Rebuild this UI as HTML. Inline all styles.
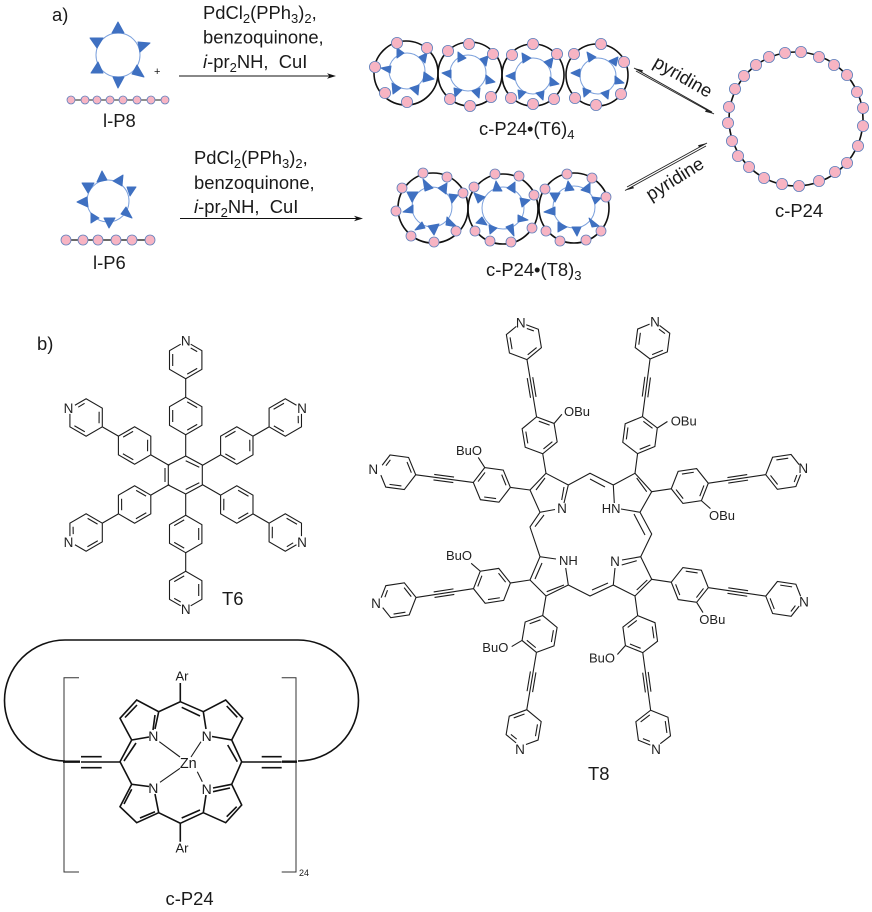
<!DOCTYPE html>
<html><head><meta charset="utf-8"><title>c-P24 scheme</title>
<style>
html,body{margin:0;padding:0;background:#fff}
svg{display:block}
text{font-family:"Liberation Sans",Arial,sans-serif;fill:#1a1a1a}
.l{font-size:18.4px}
.s{font-size:13px;fill:#222}
.n{font-size:13.5px;text-anchor:middle;fill:#222}
.b{fill:none;stroke:#1c1c1c;stroke-width:1.1}
.p{fill:none;stroke:#111;stroke-width:1.6}
.ring{fill:none;stroke:#111;stroke-width:1.6}
.in{fill:none;stroke:#7ba0dc;stroke-width:1}
.tri polygon{fill:#3f70c1;stroke:#3f70c1;stroke-width:1;stroke-linejoin:round}
.dot circle{fill:#f7b4c3;stroke:#5f80bc;stroke-width:.8}
</style></head><body>
<svg width="872" height="912" viewBox="0 0 872 912" xmlns="http://www.w3.org/2000/svg">
<defs>
<g id="hex"><path class="b" d="M0-18.7L16.2-9.35V9.35L0 18.7L-16.2 9.35V-9.35ZM-13-6V6M11.5-8.4L1.5-14.1M11.5 8.4L1.5 14.1"/></g>
<g id="pyr"><path class="b" d="M5-15.8L16.2-9.35V9.35L0 18.7L-16.2 9.35V-9.35L-5-15.8M-13-6V6M11.5-8.4L5-12M11.5 8.4L1.5 14.1"/></g>
<g id="a6"><path class="b" d="M0-19V-40.3M0-77.7V-96"/><use href="#hex" x="0" y="-59"/><use href="#pyr" x="0" y="-115"/></g>
<g id="a8"><path class="b" d="M0 0V-19.5M0-57.5V-115M-2.8-77V-97M2.8-77V-97M16.45-48L25.4-55.6"/><use href="#hex" x="0" y="-38.5"/><use href="#pyr" x="0" y="-134"/></g>
</defs>

<!-- part a text -->
<text class="l" x="52" y="21">a)</text>
<text class="l" x="203" y="19">PdCl<tspan font-size="13" dy="4">2</tspan><tspan dy="-4">(PPh</tspan><tspan font-size="13" dy="4">3</tspan><tspan dy="-4">)</tspan><tspan font-size="13" dy="4">2</tspan><tspan dy="-4">,</tspan></text>
<text class="l" x="203" y="43.5">benzoquinone,</text>
<text class="l" x="203" y="68"><tspan font-style="italic">i</tspan>-pr<tspan font-size="13" dy="4">2</tspan><tspan dy="-4">NH,&#160;&#160;CuI</tspan></text>
<text class="l" x="194" y="164">PdCl<tspan font-size="13" dy="4">2</tspan><tspan dy="-4">(PPh</tspan><tspan font-size="13" dy="4">3</tspan><tspan dy="-4">)</tspan><tspan font-size="13" dy="4">2</tspan><tspan dy="-4">,</tspan></text>
<text class="l" x="194" y="189">benzoquinone,</text>
<text class="l" x="194" y="213"><tspan font-style="italic">i</tspan>-pr<tspan font-size="13" dy="4">2</tspan><tspan dy="-4">NH,&#160;&#160;CuI</tspan></text>
<text x="154" y="75" font-size="11">+</text>
<text class="l" x="103" y="127">l-P8</text>
<text class="l" x="93" y="269">l-P6</text>
<text class="l" x="479" y="135">c-P24•(T6)<tspan font-size="13" dy="4">4</tspan></text>
<text class="l" x="486" y="276">c-P24•(T8)<tspan font-size="13" dy="4">3</tspan></text>
<text class="l" x="775" y="217">c-P24</text>
<text class="l" text-anchor="middle" transform="translate(680,82) rotate(30)">pyridine</text>
<text class="l" text-anchor="middle" transform="translate(678,184) rotate(-32)">pyridine</text>

<!-- arrows -->
<path d="M179 76H330M180 218.5H357" stroke="#111" stroke-width="1" fill="none"/>
<polygon points="336,76 327,73.3 329.5,76 327,78.7" fill="#111"/>
<polygon points="363,218.5 354,215.8 356.5,218.5 354,221.2" fill="#111"/>
<path d="M634 68L712 112M636 71L714 114M627 187L707 143M625 190.5L706 146" stroke="#222" stroke-width=".9" fill="none"/>
<polygon points="634,68 643,70.2 642,72.5" fill="#222"/>
<polygon points="714,114 705,111.8 706.2,109.6" fill="#222"/>
<polygon points="707,143 698,145.3 699.2,147.5" fill="#222"/>
<polygon points="625,190.5 634,188.2 632.8,186" fill="#222"/>

<!-- free rings and chains -->
<circle class="in" cx="118" cy="55" r="22"/>
<circle class="in" cx="108" cy="201" r="21"/>
<path d="M71 100H165" stroke="#222" stroke-width="1"/>
<path d="M66 240H150" stroke="#111" stroke-width="1.3"/>
<g class="ring">
<circle cx="406" cy="73" r="32"/><circle cx="470" cy="74" r="32"/><circle cx="533" cy="75" r="31"/><circle cx="597" cy="75" r="31"/>
<circle cx="433" cy="208" r="35"/><circle cx="503" cy="209" r="35"/><circle cx="574" cy="208" r="35"/>
<circle cx="796" cy="119" r="67"/>
</g>
<g class="in">
<circle cx="407" cy="71" r="18"/><circle cx="468" cy="73" r="18"/><circle cx="533" cy="76" r="18"/><circle cx="598" cy="76" r="18"/>
<circle cx="432" cy="207" r="20"/><circle cx="503" cy="208" r="21"/><circle cx="574" cy="207" r="21"/>
</g>
<g class="tri">
<polygon points="118,22 112,33 124,33"/><polygon points="138,42 150,43 140,52"/><polygon points="144,77 132,74 137,65"/><polygon points="113,77 124,77 118,88"/><polygon points="91,73 98,62 103,73"/><polygon points="90,38 103,38 97,48"/>
<polygon points="77,202 87,197 88,207"/><polygon points="82,183 94,183 88,193"/><polygon points="102,171 107,180 97,182"/><polygon points="123,175 122,186 113,181"/><polygon points="136,187 127,187 130,196"/><polygon points="132,218 121,214 126,207"/><polygon points="109,228 104,218 115,218"/><polygon points="91,223 91,213 99,218"/>
<polygon points="397,48 404,53 397,58"/><polygon points="427,53 419,57 425,63"/><polygon points="434,79 424,72 423,82"/><polygon points="410,88 419,85 418,95"/><polygon points="392,83 401,88 393,94"/><polygon points="381,68 391,66 390,73"/>
<polygon points="458,52 466,58 458,62"/><polygon points="488,56 480,59 486,66"/><polygon points="495,82 486,75 486,84"/><polygon points="472,91 480,88 479,98"/><polygon points="454,88 462,90 455,97"/><polygon points="442,73 451,70 451,78"/>
<polygon points="522,53 531,58 523,63"/><polygon points="553,58 544,62 551,68"/><polygon points="559,84 550,77 550,86"/><polygon points="536,93 544,91 543,100"/><polygon points="518,90 526,92 519,99"/><polygon points="506,76 515,72 515,80"/>
<polygon points="587,52 596,57 589,62"/><polygon points="618,57 609,61 616,66"/><polygon points="624,83 615,76 615,84"/><polygon points="601,93 609,90 608,99"/><polygon points="583,88 591,91 584,97"/><polygon points="571,73 580,69 580,77"/>
<polygon points="423,179 433,188 425,191"/><polygon points="447,183 438,188 446,194"/><polygon points="458,195 449,194 452,203"/><polygon points="457,227 447,217 446,225"/><polygon points="434,235 428,226 439,224"/><polygon points="415,230 422,222 425,228"/><polygon points="403,212 413,205 413,213"/><polygon points="407,192 418,192 412,202"/>
<polygon points="496,181 502,191 493,191"/><polygon points="515,182 507,188 515,193"/><polygon points="530,200 520,198 522,207"/><polygon points="528,220 518,215 518,222"/><polygon points="514,236 506,227 513,224"/><polygon points="490,234 489,225 497,228"/><polygon points="476,223 482,217 487,225"/><polygon points="474,193 485,197 478,203"/>
<polygon points="568,181 574,190 565,191"/><polygon points="590,183 581,190 590,193"/><polygon points="601,198 592,197 595,204"/><polygon points="599,226 589,218 592,227"/><polygon points="577,236 572,227 581,227"/><polygon points="558,232 558,222 567,227"/><polygon points="544,212 555,207 555,215"/><polygon points="550,193 560,193 555,202"/>
</g>
<g class="dot">
<circle cx="71" cy="100" r="4"/><circle cx="85" cy="100" r="4"/><circle cx="97" cy="100" r="4"/><circle cx="110" cy="100" r="4"/><circle cx="123" cy="100" r="4"/><circle cx="137" cy="100" r="4"/><circle cx="151" cy="100" r="4"/><circle cx="165" cy="100" r="4"/>
<circle cx="66" cy="240" r="5"/><circle cx="83" cy="240" r="5"/><circle cx="98" cy="240" r="5"/><circle cx="116" cy="240" r="5"/><circle cx="132" cy="240" r="5"/><circle cx="150" cy="240" r="5"/>
</g>
<g class="dot">
<circle cx="397" cy="43" r="5.6"/><circle cx="427" cy="48" r="5.6"/><circle cx="375" cy="67" r="5.6"/><circle cx="385" cy="93" r="5.6"/><circle cx="407" cy="102" r="5.6"/>
<circle cx="469" cy="44" r="5.6"/><circle cx="448" cy="51" r="5.6"/><circle cx="493" cy="54" r="5.6"/><circle cx="450" cy="99" r="5.6"/><circle cx="470" cy="106" r="5.6"/><circle cx="491" cy="97" r="5.6"/>
<circle cx="533" cy="44" r="5.6"/><circle cx="512" cy="55" r="5.6"/><circle cx="557" cy="54" r="5.6"/><circle cx="511" cy="98" r="5.6"/><circle cx="533" cy="104" r="5.6"/><circle cx="554" cy="99" r="5.6"/>
<circle cx="601" cy="44" r="5.6"/><circle cx="574" cy="54" r="5.6"/><circle cx="624" cy="62" r="5.6"/><circle cx="575" cy="98" r="5.6"/><circle cx="596" cy="105" r="5.6"/><circle cx="621" cy="94" r="5.6"/>
<circle cx="423" cy="173" r="5"/><circle cx="447" cy="177" r="5"/><circle cx="402" cy="188" r="5"/><circle cx="463" cy="193" r="5"/><circle cx="396" cy="211" r="5"/><circle cx="456" cy="231" r="5"/><circle cx="411" cy="236" r="5"/><circle cx="434" cy="242" r="5"/>
<circle cx="495" cy="174" r="5"/><circle cx="519" cy="176" r="5"/><circle cx="474" cy="187" r="5"/><circle cx="534" cy="195" r="5"/><circle cx="475" cy="231" r="5"/><circle cx="532" cy="228" r="5"/><circle cx="490" cy="241" r="5"/><circle cx="511" cy="242" r="5"/>
<circle cx="567" cy="174" r="5"/><circle cx="592" cy="178" r="5"/><circle cx="545" cy="189" r="5"/><circle cx="606" cy="197" r="5"/><circle cx="546" cy="231" r="5"/><circle cx="601" cy="231" r="5"/><circle cx="560" cy="241" r="5"/><circle cx="586" cy="240" r="5"/>
<circle cx="769" cy="57" r="5.6"/><circle cx="785" cy="53" r="5.6"/><circle cx="801" cy="52" r="5.6"/><circle cx="819" cy="57" r="5.6"/><circle cx="834" cy="65" r="5.6"/><circle cx="847" cy="75" r="5.6"/><circle cx="857" cy="92" r="5.6"/><circle cx="863" cy="108" r="5.6"/><circle cx="863" cy="126" r="5.6"/><circle cx="858" cy="146" r="5.6"/><circle cx="847" cy="163" r="5.6"/><circle cx="835" cy="172" r="5.6"/><circle cx="819" cy="181" r="5.6"/><circle cx="799" cy="186" r="5.6"/><circle cx="782" cy="184" r="5.6"/><circle cx="764" cy="178" r="5.6"/><circle cx="749" cy="167" r="5.6"/><circle cx="738" cy="156" r="5.6"/><circle cx="732" cy="141" r="5.6"/><circle cx="728" cy="123" r="5.6"/><circle cx="729" cy="107" r="5.6"/><circle cx="735" cy="89" r="5.6"/><circle cx="744" cy="76" r="5.6"/><circle cx="756" cy="65" r="5.6"/>
</g>

<!-- T6 -->
<text class="l" x="37" y="350">b)</text>
<path class="b" d="M185.7 456L202.3 465V485L185.7 494L168.3 485V465ZM185.7 460.7L199.3 467.3M165 468V482M185.7 489.5L199.3 482.7"/>
<g transform="translate(185.7,475)">
<use href="#a6"/><use href="#a6" transform="rotate(60)"/><use href="#a6" transform="rotate(120)"/><use href="#a6" transform="rotate(180)"/><use href="#a6" transform="rotate(240)"/><use href="#a6" transform="rotate(300)"/>
</g>
<text class="n" x="185.7" y="345.5">N</text><text class="n" x="302" y="412.8">N</text><text class="n" x="302" y="546.8">N</text><text class="n" x="185.7" y="613.8">N</text><text class="n" x="68.5" y="546.8">N</text><text class="n" x="68.5" y="412.8">N</text>
<text class="l" x="222" y="605">T6</text>

<!-- c-P24 structure -->
<path d="M65 761A60.5 60.5 0 0 1 65 640H298A60.5 60.5 0 0 1 298 761" fill="none" stroke="#111" stroke-width="1.6"/>
<path d="M79 677.7H64V872H79M281.7 677.7H296V872H281.7" fill="none" stroke="#333" stroke-width="1"/>
<text x="299" y="876" font-size="9" fill="#444">24</text>
<path d="M63 761.7H80M282 761.7H297" stroke="#111" stroke-width="2.4" fill="none"/>
<path class="p" d="M81 756.7H101.7M81 762H120M81 767.7H101.7M241.7 762H281.7M261.7 756.7H281.7M261.7 767.7H281.7"/>
<path class="p" d="M180.3 683V701.7L158.7 711.7L136.7 700L120 718.3L131.7 740L149 737M158.7 711.7L155 729M137 705L125 717.5M155 715L153 730M131.7 740L120 761.7L131.7 784.3L149 786.5M136 743L124 761M131.7 784.3L120 806.7L136.7 822.7L158.7 812.7L155 794M131.7 789.3L124 804M158.7 812.7L180.3 823.3V841.7M155 811.7L140 818M180.3 823.3L203.3 812.7L225.7 822.7L241.7 805L231.7 784.3L213 788M181.7 818L200 810M226.7 816.7L236.7 806.7M203.3 812.7L206 795M213 791.7L230 788M231.7 784.3L241.7 761.7L231.7 740L212 736.5M227.7 745L237.3 761.7M231.7 740L242.7 718.3L225.7 700L203.3 711.7L206 729M226.7 706L237.3 717.3M203.3 711.7L180.3 701.7M181.7 707.3L200 716"/>
<path class="b" d="M159.3 741.7L180 757M201 741.7L191 757M160 782.3L180 768.3M202.3 781.7L197.3 771.7"/>
<text x="182" y="680.7" font-size="13" text-anchor="middle" fill="#222">Ar</text>
<text x="182" y="852.7" font-size="13" text-anchor="middle" fill="#222">Ar</text>
<text x="188.3" y="768" font-size="14.5" text-anchor="middle" fill="#111">Zn</text>
<g font-size="14" text-anchor="middle" fill="#111">
<text x="153.3" y="741" style="font-size:14px">N</text><text x="206.7" y="741" style="font-size:14px">N</text><text x="153.3" y="793" style="font-size:14px">N</text><text x="206.7" y="794" style="font-size:14px">N</text>
</g>
<text class="l" x="165.5" y="905">c-P24</text>

<!-- T8 -->
<path class="b" d="M546 473.3L530 490L540 512.3L555 509.5M545 478L536 490M568.3 485L564 503M561.7 500L564 487M546 473.3L568.3 485L590 473.3L613.3 485L614.3 503M590 479L605 487M613.3 485L635 473.3L651.7 491.7L640 512.3L621 509M636.7 478L646.7 491.7M640 512.3L651.7 534L640.7 556.7L622 560M634 514L645 535M640.7 556.7L651.7 579.3L635 596L613.3 585L615 568M621.7 565L636.7 560.7M636.7 590L647.3 580M613.3 585L590 596L568.3 585L565.7 568M592 590L608 583M568.3 585L546 596L530 580L540 556.7L556 559M546.7 591.7L564 585M542 563L535 579M540 556.7L530 527L540 512.3M544 515L535 526.7"/>
<use href="#a8" transform="translate(546,473.3) rotate(-9.5)"/>
<use href="#a8" transform="translate(530,490) rotate(-82.4)"/>
<use href="#a8" transform="translate(635,473.3) rotate(7.5)"/>
<use href="#a8" transform="translate(651.7,491.7) rotate(81.5)"/>
<use href="#a8" transform="translate(530,580) rotate(-98.7)"/>
<use href="#a8" transform="translate(546,596) rotate(189.6)"/>
<use href="#a8" transform="translate(635,596) rotate(172.2)"/>
<use href="#a8" transform="translate(651.7,579.3) rotate(98.4)"/>
<text class="n" x="520.7" y="327.5">N</text><text class="n" x="373.3" y="473.8">N</text><text class="n" x="655" y="326.5">N</text><text class="n" x="803.3" y="473">N</text><text class="n" x="376" y="608">N</text><text class="n" x="520" y="754">N</text><text class="n" x="656" y="754">N</text><text class="n" x="804" y="606.5">N</text>
<text class="n" x="562" y="513">N</text><text class="n" x="615" y="566">N</text>
<text class="s" x="601.7" y="513">HN</text><text class="s" x="559" y="565">NH</text>
<text class="s" x="564" y="416">OBu</text><text class="s" x="456" y="455">BuO</text><text class="s" x="670.7" y="425.7">OBu</text><text class="s" x="709" y="520">OBu</text><text class="s" x="446" y="560">BuO</text><text class="s" x="482.3" y="652">BuO</text><text class="s" x="589" y="662.7">BuO</text><text class="s" x="699.3" y="624">OBu</text>
<text class="l" x="588" y="780">T8</text>
</svg>
</body></html>
